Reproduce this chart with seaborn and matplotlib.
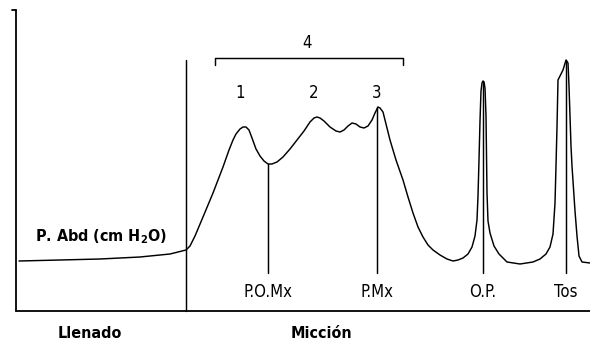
import matplotlib
matplotlib.use("Agg")
import matplotlib.pyplot as plt
import seaborn as sns
import pandas as pd

# ---- data ----
time = [19, 60, 100, 140, 170, 186, 190, 195, 203, 213, 223, 229, 233, 236, 240,
        243, 246, 249, 252, 256, 260, 264, 268, 272, 277, 283, 290, 297, 304, 310,
        314, 317, 320, 324, 330, 336, 340, 344, 348, 352, 356, 360, 364, 368, 372,
        375, 378, 380, 383, 390, 396, 403, 408, 413, 418, 423, 428, 433, 440, 447,
        453, 458, 463, 468, 472, 475, 477, 478, 479, 480, 481, 482, 483, 484, 485,
        486, 487, 488, 490, 494, 499, 507, 520, 533, 540, 546, 550, 553, 555, 556,
        557, 558, 560, 563, 566, 568, 569, 570, 571, 572, 573, 575, 577, 579, 582,
        590]
pressure = [85, 86, 87, 89, 92, 96, 100, 110, 129, 153, 179, 196, 206, 212, 217,
            219, 219, 216, 208, 197, 190, 185, 182, 182, 184, 189, 197, 206, 215, 224,
            228, 229, 228, 225, 219, 215, 214, 216, 220, 223, 222, 219, 218, 220, 226,
            233, 239, 238, 234, 206, 186, 166, 149, 133, 119, 109, 101, 96, 91, 87,
            85, 86, 88, 92, 99, 110, 126, 150, 186, 225, 255, 263, 265, 264, 258,
            230, 153, 125, 113, 100, 92, 84, 82, 84, 87, 92, 99, 112, 143, 180,
            219, 266, 270, 276, 286, 283, 260, 230, 200, 180, 165, 135, 110, 90, 84,
            83]

marker_labels = ["P.O.Mx", "P.Mx", "O.P.", "Tos"]
marker_x = [268, 377, 483, 566]
marker_top = [182, 239, 265, 286]

peak_labels = ["1", "2", "3"]
peak_x = [240, 314, 377]

phase_labels = ["Llenado", "Micción"]
phase_x = [90, 321]

bracket_label = "4"
y_label = "P. Abd (cm H$_\\mathregular{2}$O)"

# ---- figure ----
sns.set_style("white")
plt.rcParams["font.family"] = ["DejaVu Sans"]
plt.rcParams["font.stretch"] = "condensed"
plt.rcParams["text.color"] = "black"
plt.rcParams["mathtext.fontset"] = "custom"
plt.rcParams["mathtext.rm"] = "DejaVu Sans:stretch=condensed:weight=bold"

fig = plt.figure(figsize=(5.9, 3.46), dpi=100)
ax = fig.add_axes([0, 0, 1, 1])
ax.set_xlim(0, 590)
ax.set_ylim(0, 346)
ax.axis("off")

lw = 1.05
col = "black"

df = pd.DataFrame({"time": time, "pressure": pressure})
sns.lineplot(data=df, x="time", y="pressure", sort=False, color=col,
             linewidth=lw, ax=ax, legend=False)

# axes frame
ax.plot([16, 16], [35, 336], color=col, lw=1.3)
ax.plot([12, 16], [336, 336], color=col, lw=1.3)
ax.plot([16, 590], [35, 35], color=col, lw=1.3)
# phase divider
ax.plot([186, 186], [35, 286], color=col, lw=lw)

fs = 12
fsb = 11.5
# marker lines and labels
for x, top, lab in zip(marker_x, marker_top, marker_labels):
    ax.plot([x, x], [73, top], color=col, lw=lw)
    ax.text(x, 54, lab, ha="center", va="center", fontsize=fs, fontstretch="condensed")

# peaks
for x, lab in zip(peak_x, peak_labels):
    ax.text(x, 253, lab, ha="center", va="center", fontsize=fs, fontstretch="condensed")

# bracket
ax.plot([215, 215, 403, 403], [281, 288, 288, 281], color=col, lw=lw)
ax.text(307, 303, bracket_label, ha="center", va="center", fontsize=fs,
        fontstretch="condensed")

# labels
ax.text(35, 109, y_label, ha="left", va="center", fontsize=fsb, fontweight="bold",
        fontstretch="condensed")
for x, lab in zip(phase_x, phase_labels):
    ax.text(x, 13, lab, ha="center", va="center", fontsize=fsb, fontweight="bold",
            fontstretch="condensed")

fig.savefig("out.png", dpi=100)
